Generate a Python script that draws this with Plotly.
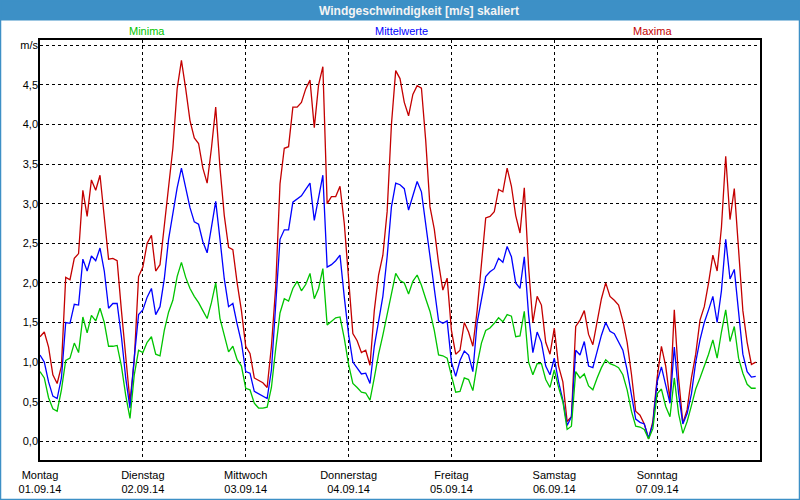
import plotly.graph_objects as go

# ---- data (hourly values, 01.09.14 00:00 .. 07.09.14 23:00) ----
hours = list(range(168))

maxima = [1.32, 1.38, 1.19, 0.84, 0.73, 0.95, 2.07, 2.04, 2.31, 2.37,
          3.17, 2.84, 3.30, 3.17, 3.36, 2.85, 2.30, 2.31, 2.28, 1.65,
          1.03, 0.50, 1.03, 2.08, 2.20, 2.50, 2.60, 2.15, 2.23, 2.70,
          3.15, 3.70, 4.45, 4.81, 4.45, 4.05, 3.83, 3.76, 3.45, 3.26,
          3.70, 4.22, 3.45, 2.85, 2.45, 2.42, 2.00, 1.65, 1.20, 1.11,
          0.80, 0.77, 0.74, 0.68, 1.20, 1.95, 3.25, 3.70, 3.72, 4.22,
          4.22, 4.28, 4.45, 4.56, 3.96, 4.50, 4.73, 3.00, 3.09, 3.09,
          3.22, 2.75, 2.00, 1.36, 1.27, 1.12, 1.15, 0.96, 1.65, 2.10,
          2.35, 2.90, 4.00, 4.68, 4.58, 4.28, 4.11, 4.38, 4.49, 4.46,
          3.80, 2.96, 2.68, 2.25, 1.91, 2.06, 1.40, 1.10, 1.15, 1.50,
          1.38, 1.20, 1.65, 2.27, 2.82, 2.84, 2.90, 3.18, 3.15, 3.45,
          3.22, 2.85, 2.63, 3.20, 2.20, 1.50, 1.83, 1.72, 1.25, 1.10,
          1.43, 0.95, 0.75, 0.25, 0.31, 1.45, 1.53, 1.65, 1.35, 1.22,
          1.50, 1.80, 2.00, 1.83, 1.78, 1.72, 1.52, 1.25, 0.85, 0.38,
          0.33, 0.22, 0.03, 0.25, 0.80, 1.20, 0.95, 0.52, 1.66, 0.80,
          0.23, 0.40, 0.80, 1.10, 1.53, 1.70, 2.00, 2.35, 2.15, 2.70,
          3.60, 2.80, 3.19, 2.40, 1.65, 1.25, 0.97, 1.00]

mittelwerte = [1.09, 1.00, 0.75, 0.57, 0.54, 0.80, 1.50, 1.49, 1.73, 1.72,
               2.30, 2.15, 2.34, 2.28, 2.44, 2.15, 1.68, 1.74, 1.74, 1.32,
               0.80, 0.42, 1.06, 1.60, 1.66, 1.82, 1.93, 1.60, 1.70, 2.05,
               2.55, 2.88, 3.20, 3.45, 3.22, 2.95, 2.77, 2.74, 2.52, 2.38,
               2.70, 3.03, 2.55, 2.05, 1.70, 1.74, 1.48, 1.25, 0.88, 0.86,
               0.63, 0.60, 0.57, 0.54, 0.90, 1.70, 2.55, 2.67, 2.67, 3.02,
               3.06, 3.10, 3.18, 3.26, 2.79, 3.10, 3.36, 2.20, 2.23, 2.28,
               2.35, 1.82, 1.35, 1.00, 0.92, 0.85, 0.86, 0.73, 1.20, 1.50,
               1.83, 2.33, 2.96, 3.26, 3.24, 3.19, 2.92, 3.10, 3.28, 3.15,
               2.75, 2.33, 1.88, 1.52, 1.49, 1.52, 1.00, 0.82, 1.02, 1.14,
               1.09, 0.88, 1.50, 1.78, 2.08, 2.14, 2.18, 2.31, 2.26, 2.46,
               2.33, 2.00, 1.93, 2.33, 1.60, 1.12, 1.38, 1.25, 0.95, 0.84,
               1.05, 0.75, 0.52, 0.20, 0.31, 1.15, 1.09, 1.26, 0.95, 0.93,
               1.15, 1.34, 1.50, 1.39, 1.36, 1.26, 1.15, 0.90, 0.60, 0.28,
               0.24, 0.22, 0.04, 0.22, 0.75, 0.94, 0.71, 0.48, 1.19, 0.60,
               0.22, 0.35, 0.60, 1.00, 1.28, 1.50, 1.66, 1.83, 1.50, 1.90,
               2.55, 2.05, 2.17, 1.60, 1.10, 0.88, 0.81, 0.82]

minima = [0.88, 0.80, 0.55, 0.41, 0.38, 0.65, 1.02, 1.05, 1.24, 1.12,
          1.57, 1.37, 1.59, 1.52, 1.68, 1.50, 1.20, 1.20, 1.21, 0.95,
          0.58, 0.29, 0.84, 1.15, 1.12, 1.25, 1.32, 1.10, 1.08, 1.40,
          1.63, 1.78, 2.08, 2.26, 2.07, 1.93, 1.83, 1.75, 1.65, 1.55,
          1.75, 2.00, 1.55, 1.33, 1.13, 1.20, 1.03, 0.95, 0.67, 0.65,
          0.48, 0.42, 0.42, 0.43, 0.68, 1.17, 1.62, 1.80, 1.77, 1.93,
          2.02, 1.90, 1.98, 2.12, 1.80, 1.93, 2.18, 1.47, 1.52, 1.56,
          1.57, 1.30, 0.97, 0.73, 0.68, 0.62, 0.61, 0.52, 0.80, 1.10,
          1.34, 1.60, 1.90, 2.12, 2.03, 2.00, 1.86, 2.02, 2.10, 1.97,
          1.80, 1.64, 1.40, 1.09, 1.08, 1.05, 0.83, 0.62, 0.63, 0.80,
          0.78, 0.64, 0.97, 1.24, 1.40, 1.43, 1.49, 1.56, 1.51, 1.60,
          1.58, 1.32, 1.33, 1.64, 1.00, 0.84, 0.98, 0.98, 0.78, 0.68,
          0.90, 0.68, 0.50, 0.15, 0.19, 0.88, 0.80, 0.85, 0.70, 0.65,
          0.80, 0.93, 1.03, 0.98, 0.96, 0.93, 0.84, 0.65, 0.38, 0.19,
          0.18, 0.15, 0.03, 0.16, 0.60, 0.66, 0.44, 0.31, 0.80, 0.35,
          0.10, 0.25, 0.45, 0.66, 0.80, 0.95, 1.10, 1.28, 1.05, 1.38,
          1.66, 1.26, 1.45, 1.05, 0.86, 0.72, 0.67, 0.67]

day_ticks = [0, 24, 48, 72, 96, 120, 144]
day_names = ["Montag", "Dienstag", "Mittwoch", "Donnerstag", "Freitag", "Samstag", "Sonntag"]
day_dates = ["01.09.14", "02.09.14", "03.09.14", "04.09.14", "05.09.14", "06.09.14", "07.09.14"]

y_ticks = [0.0, 0.5, 1.0, 1.5, 2.0, 2.5, 3.0, 3.5, 4.0, 4.5, 5.0]
y_labels = ["0,0", "0,5", "1,0", "1,5", "2,0", "2,5", "3,0", "3,5", "4,0", "4,5", "m/s"]

series_names = ["Maxima", "Mittelwerte", "Minima"]
title_text = "Windgeschwindigkeit [m/s] skaliert"

# ---- style ----
RED = "#c40000"
BLUE = "#0000ff"
GREEN = "#00c400"
BAR = "#3d90c6"
FONT = "Liberation Sans"

W, H = 800, 500
L, R, T, B = 40, 40, 40, 40


def px_x(p):
    return (p - L) / (W - L - R)


def px_y(p):
    return (H - B - p) / (H - T - B)


fig = go.Figure()
for name, vals, col in zip(series_names, [maxima, mittelwerte, minima], [RED, BLUE, GREEN]):
    fig.add_trace(go.Scatter(x=hours, y=vals, mode="lines", name=name,
                             line=dict(color=col, width=1.3)))

axis_common = dict(showgrid=True, gridcolor="black", gridwidth=1, griddash="3px,3px",
                   showline=True, mirror=True, linecolor="black", linewidth=1.5,
                   zeroline=False, ticks="", automargin=False,
                   tickfont=dict(family=FONT, size=11, color="black"))

fig.update_layout(
    width=W, height=H,
    margin=dict(l=L, r=R, t=T, b=B),
    paper_bgcolor="white", plot_bgcolor="white",
    showlegend=False,
    xaxis=dict(range=[0, 168], tickvals=day_ticks,
               ticktext=[f"{n}<br>{d}" for n, d in zip(day_names, day_dates)],
               ticklabelstandoff=4, **axis_common),
    yaxis=dict(range=[-0.236, 5.067], tickvals=y_ticks, ticktext=y_labels,
               ticklabelstandoff=-2, **axis_common),
    shapes=[
        dict(type="rect", xref="paper", yref="paper",
             x0=px_x(0), x1=px_x(W), y0=px_y(20.5), y1=px_y(0),
             fillcolor=BAR, line=dict(width=0), layer="above"),
        dict(type="rect", xref="paper", yref="paper",
             x0=px_x(0.5), x1=px_x(W - 0.5), y0=px_y(H - 0.5), y1=px_y(0.5),
             fillcolor="rgba(0,0,0,0)", line=dict(color=BAR, width=1.5), layer="above"),
    ],
    annotations=[
        dict(text=f"<b>{title_text}</b>", xref="paper", yref="paper",
             x=px_x(419), y=px_y(10.5), showarrow=False, xanchor="center", yanchor="middle",
             font=dict(family=FONT, size=12, color="#f4f4f4")),
        dict(text=series_names[2], xref="paper", yref="paper", x=px_x(147), y=px_y(31),
             showarrow=False, xanchor="center", yanchor="middle",
             font=dict(family=FONT, size=11, color=GREEN)),
        dict(text=series_names[1], xref="paper", yref="paper", x=px_x(401), y=px_y(31),
             showarrow=False, xanchor="center", yanchor="middle",
             font=dict(family=FONT, size=11, color=BLUE)),
        dict(text=series_names[0], xref="paper", yref="paper", x=px_x(652), y=px_y(31),
             showarrow=False, xanchor="center", yanchor="middle",
             font=dict(family=FONT, size=11, color=RED)),
    ],
)

fig.write_html("out.html", config={"displayModeBar": False},
               post_script="document.body.style.margin='0px';")
